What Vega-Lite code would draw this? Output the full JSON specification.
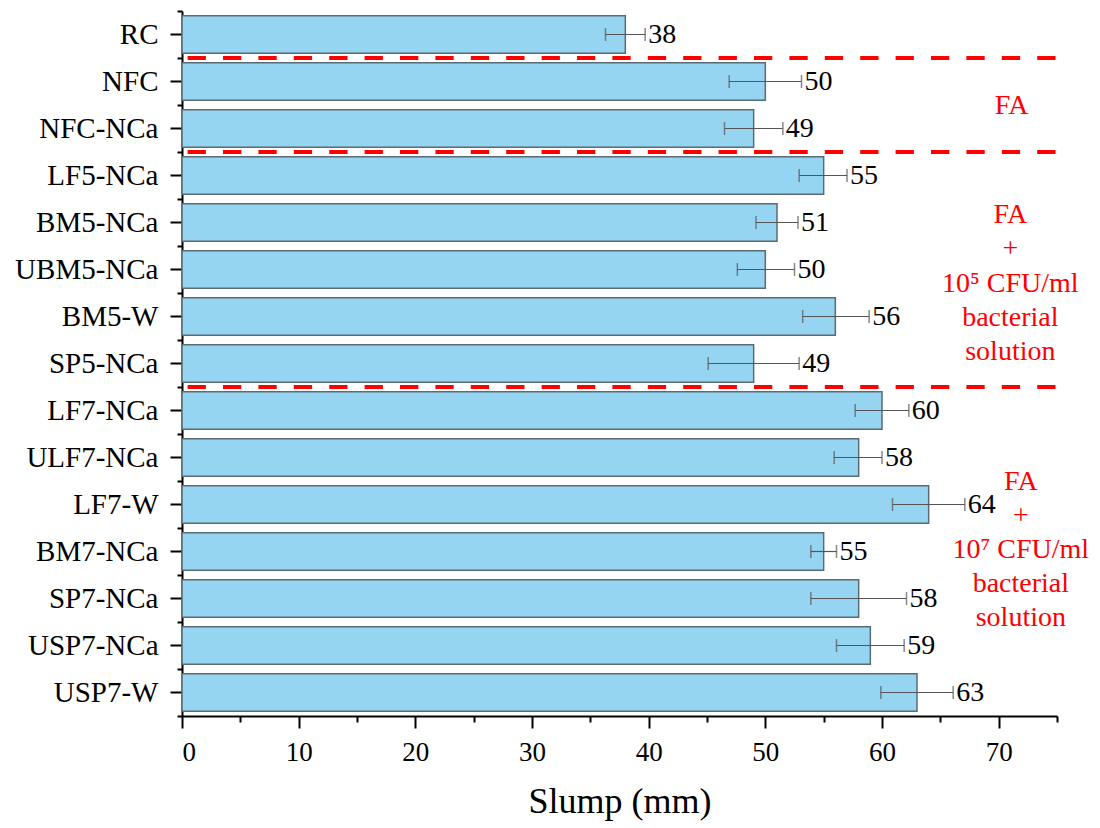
{
  "$schema": "https://vega.github.io/schema/vega-lite/v6.json",
  "autosize": {"type": "none"},
  "padding": {"left": 182, "top": 11, "right": 43, "bottom": 112},
  "width": 875,
  "height": 705,
  "background": "white",
  "config": {
    "view": {"stroke": null},
    "axis": {
      "labelFont": "Liberation Serif",
      "titleFont": "Liberation Serif",
      "labelColor": "black",
      "titleColor": "black",
      "domainColor": "black",
      "tickColor": "black",
      "domainWidth": 2,
      "tickWidth": 2,
      "grid": false
    },
    "text": {"font": "Liberation Serif"}
  },
  "data": {
    "values": [
      {"name": "RC", "slump": 38, "lo": 36.3, "hi": 39.7},
      {"name": "NFC", "slump": 50, "lo": 46.9, "hi": 53.1},
      {"name": "NFC-NCa", "slump": 49, "lo": 46.5, "hi": 51.5},
      {"name": "LF5-NCa", "slump": 55, "lo": 52.9, "hi": 57.0},
      {"name": "BM5-NCa", "slump": 51, "lo": 49.2, "hi": 52.8},
      {"name": "UBM5-NCa", "slump": 50, "lo": 47.6, "hi": 52.5},
      {"name": "BM5-W", "slump": 56, "lo": 53.2, "hi": 58.9},
      {"name": "SP5-NCa", "slump": 49, "lo": 45.1, "hi": 52.9},
      {"name": "LF7-NCa", "slump": 60, "lo": 57.7, "hi": 62.3},
      {"name": "ULF7-NCa", "slump": 58, "lo": 55.9, "hi": 60.0},
      {"name": "LF7-W", "slump": 64, "lo": 60.9, "hi": 67.1},
      {"name": "BM7-NCa", "slump": 55, "lo": 53.9, "hi": 56.1},
      {"name": "SP7-NCa", "slump": 58, "lo": 53.9, "hi": 62.1},
      {"name": "USP7-NCa", "slump": 59, "lo": 56.1, "hi": 61.9},
      {"name": "USP7-W", "slump": 63, "lo": 59.9, "hi": 66.1}
    ]
  },
  "resolve": {"axis": {"x": "independent", "y": "independent"}},
  "layer": [
    {
      "mark": {"type": "bar", "height": {"band": 0.8}, "fill": "#96D5F1", "stroke": "#5B6B73", "strokeWidth": 1.5},
      "encoding": {
        "y": {
          "field": "name", "type": "nominal", "sort": null,
          "scale": {"paddingInner": 0, "paddingOuter": 0},
          "axis": {"orient": "left", "title": null, "tickSize": 12, "labelPadding": 12, "labelFontSize": 29, "labelLimit": 300}
        },
        "x": {
          "field": "slump", "type": "quantitative",
          "scale": {"domain": [0, 75], "nice": false, "zero": true},
          "axis": {"orient": "bottom", "values": [0, 10, 20, 30, 40, 50, 60, 70], "tickSize": 12, "labelPadding": 11, "labelFontSize": 27, "title": "Slump (mm)", "titleFontSize": 36, "titleFontWeight": "normal", "titlePadding": 19}
        }
      }
    },
    {
      "mark": {"type": "errorbar", "ticks": {"size": 13, "thickness": 1.5, "color": "#555555"}, "rule": {"strokeWidth": 1.2, "color": "#555555"}},
      "encoding": {
        "y": {"field": "name", "type": "nominal", "sort": null, "axis": null},
        "x": {"field": "lo", "type": "quantitative", "axis": null},
        "x2": {"field": "hi"}
      }
    },
    {
      "mark": {"type": "text", "align": "left", "baseline": "middle", "dx": 3, "fontSize": 28, "color": "black"},
      "encoding": {
        "y": {
          "field": "name", "type": "nominal", "sort": null,
          "axis": {"orient": "left", "tickBand": "extent", "labels": false, "domain": false, "tickSize": 5, "title": null}
        },
        "x": {
          "field": "hi", "type": "quantitative",
          "axis": {"orient": "bottom", "values": [5, 15, 25, 35, 45, 55, 65, 75], "labels": false, "domain": false, "tickSize": 6, "title": null}
        },
        "text": {"field": "slump", "type": "quantitative"}
      }
    },
    {
      "data": {"values": [{"boundary": "NFC"}, {"boundary": "LF5-NCa"}, {"boundary": "LF7-NCa"}]},
      "mark": {"type": "rule", "color": "#FF0000", "strokeWidth": 4, "strokeDash": [18.3, 17.1], "strokeDashOffset": -1.5},
      "encoding": {
        "y": {"field": "boundary", "type": "nominal", "sort": null, "bandPosition": 0, "axis": null}
      }
    },
    {
      "data": {"values": [{"name": "NFC", "xpos": 71.1, "label": ["FA"]}]},
      "mark": {"type": "text", "align": "center", "baseline": "middle", "fontSize": 28, "color": "#FF0000", "dy": 24.5, "clip": false},
      "encoding": {
        "y": {"field": "name", "type": "nominal", "sort": null, "axis": null},
        "x": {"field": "xpos", "type": "quantitative", "axis": null},
        "text": {"field": "label"}
      }
    },
    {
      "data": {"values": [{"name": "BM5-NCa", "xpos": 71.0, "label": ["FA", "+", "10⁵ CFU/ml", "bacterial", "solution"]}]},
      "mark": {"type": "text", "align": "center", "baseline": "middle", "fontSize": 28, "lineHeight": 34.3, "color": "#FF0000", "dy": -7.5, "clip": false},
      "encoding": {
        "y": {"field": "name", "type": "nominal", "sort": null, "axis": null},
        "x": {"field": "xpos", "type": "quantitative", "axis": null},
        "text": {"field": "label"}
      }
    },
    {
      "data": {"values": [{"name": "LF7-W", "xpos": 71.9, "label": ["FA", "+", "10⁷ CFU/ml", "bacterial", "solution"]}]},
      "mark": {"type": "text", "align": "center", "baseline": "middle", "fontSize": 28, "lineHeight": 34.1, "color": "#FF0000", "dy": -23, "clip": false},
      "encoding": {
        "y": {"field": "name", "type": "nominal", "sort": null, "axis": null},
        "x": {"field": "xpos", "type": "quantitative", "axis": null},
        "text": {"field": "label"}
      }
    }
  ]
}
